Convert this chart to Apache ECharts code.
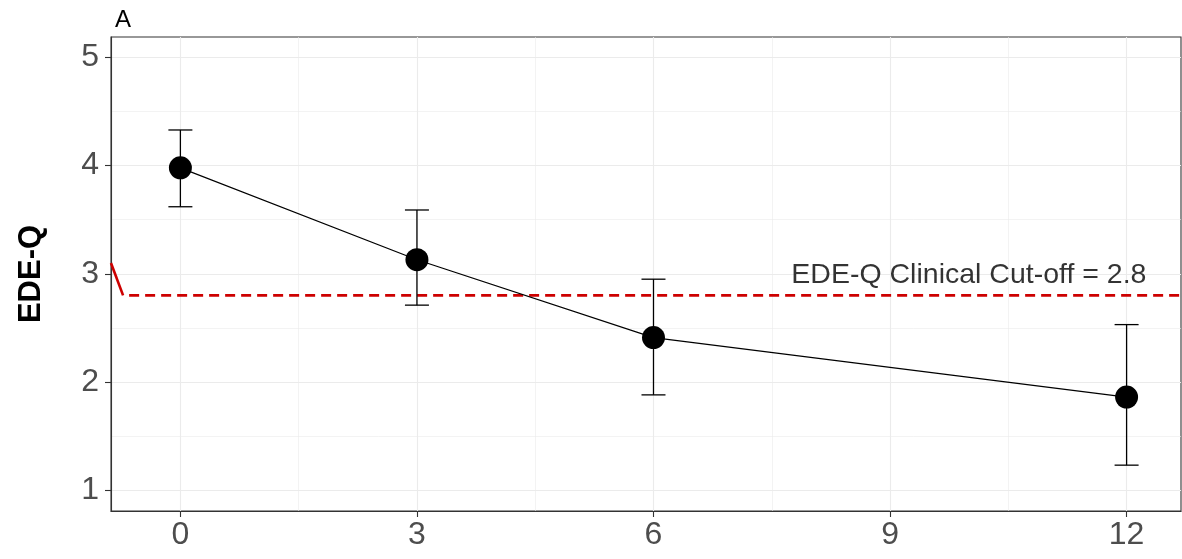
<!DOCTYPE html>
<html>
<head>
<meta charset="utf-8">
<script src="https://cdn.jsdelivr.net/npm/echarts@6/dist/echarts.min.js"></script>
<style>
	html, body { margin: 0; padding: 0; background: #fff; }
	#chart { width: 1182px; height: 559px; }
</style>
</head>
<body>
<div id="chart"></div>
<script>
// data
var months = [0, 3, 6, 12];
var means = [3.98, 3.13, 2.41, 1.86];
var lower = [3.62, 2.71, 1.88, 1.23];
var upper = [4.33, 3.59, 2.95, 2.53];
var cutoff = 2.8;
var xTicks = [0, 3, 6, 9, 12];
var xMinor = [1.5, 4.5, 7.5, 10.5];
var yTicks = [1, 2, 3, 4, 5];
var yMinor = [1.5, 2.5, 3.5, 4.5];

var xMin = -0.88, xMax = 12.69;
var yMin = 0.806, yMax = 5.19;

var myChart = echarts.init(document.getElementById('chart'));

var pointData = months.map(function (m, i) { return [m, means[i]]; });
var barData = months.map(function (m, i) { return [m, lower[i], upper[i]]; });

// grid lines drawn as markLines (axis min is not a tick multiple)
var gridLines = [];
xMinor.forEach(function (v) { gridLines.push({ xAxis: v, lineStyle: { width: 0.6 } }); });
yMinor.forEach(function (v) { gridLines.push({ yAxis: v, lineStyle: { width: 0.6 } }); });
xTicks.forEach(function (v) { gridLines.push({ xAxis: v }); });
yTicks.forEach(function (v) { gridLines.push({ yAxis: v }); });

var axisColor = '#333333';

var option = {
	animation: false,
	title: {
		text: 'A',
		left: 110,
		top: 3,
		textStyle: { fontFamily: 'Liberation Sans', fontSize: 24, fontWeight: 'normal', color: '#000' }
	},
	grid: {
		left: 111, right: 1, top: 37, bottom: 48,
		show: true,
		borderColor: axisColor,
		borderWidth: 1.1,
		backgroundColor: 'transparent'
	},
	xAxis: {
		type: 'value',
		min: xMin, max: xMax,
		axisLine: { show: true, onZero: false, lineStyle: { color: axisColor, width: 1.1 } },
		splitLine: { show: false },
		axisTick: { show: true, customValues: xTicks, length: 6, lineStyle: { color: axisColor, width: 1.1 } },
		axisLabel: {
			customValues: xTicks,
			margin: 8,
			fontFamily: 'Liberation Sans', fontSize: 32, color: '#4D4D4D'
		}
	},
	yAxis: {
		type: 'value',
		min: yMin, max: yMax,
		name: 'EDE-Q',
		nameLocation: 'middle',
		nameGap: 64,
		nameTextStyle: { fontFamily: 'Liberation Sans', fontSize: 31, fontWeight: 'bold', color: '#000' },
		axisLine: { show: true, onZero: false, lineStyle: { color: axisColor, width: 1.1 } },
		splitLine: { show: false },
		axisTick: { show: true, customValues: yTicks, length: 6, lineStyle: { color: axisColor, width: 1.1 } },
		axisLabel: {
			customValues: yTicks,
			margin: 12,
			fontFamily: 'Liberation Sans', fontSize: 32, color: '#4D4D4D'
		}
	},
	series: [
		{
			// background grid
			type: 'line',
			data: [],
			z: 0,
			silent: true,
			markLine: {
				silent: true,
				z: 0,
				symbol: 'none',
				label: { show: false },
				lineStyle: { color: '#EBEBEB', width: 1.1, type: 'solid' },
				data: gridLines,
				animation: false
			}
		},
		{
			// red cut-off line
			type: 'line',
			data: [[-0.65, cutoff], [xMax, cutoff]],
			symbol: 'none',
			z: 3,
			lineStyle: { color: '#CD0000', width: 2.6, type: [10, 6] }
		},
		{
			type: 'line',
			data: [[xMin, 3.10], [-0.727, cutoff]],
			symbol: 'none',
			z: 3,
			lineStyle: { color: '#CD0000', width: 2.6 }
		},
		{
			// error bars
			type: 'custom',
			z: 4,
			data: barData,
			renderItem: function (params, api) {
				var x = api.value(0);
				var lo = api.coord([x, api.value(1)]);
				var hi = api.coord([x, api.value(2)]);
				var w = 12;
				var style = { stroke: '#000', lineWidth: 1.3, fill: null };
				return {
					type: 'group',
					children: [
						{ type: 'line', shape: { x1: lo[0], y1: lo[1], x2: hi[0], y2: hi[1] }, style: style },
						{ type: 'line', shape: { x1: lo[0] - w, y1: lo[1], x2: lo[0] + w, y2: lo[1] }, style: style },
						{ type: 'line', shape: { x1: hi[0] - w, y1: hi[1], x2: hi[0] + w, y2: hi[1] }, style: style }
					]
				};
			}
		},
		{
			// means
			type: 'line',
			data: pointData,
			z: 5,
			symbol: 'circle',
			symbolSize: 23,
			showAllSymbol: true,
			lineStyle: { color: '#000', width: 1.2 },
			itemStyle: { color: '#000' }
		},
		{
			// annotation text
			type: 'scatter',
			data: [[10.0, 2.984]],
			z: 6,
			symbolSize: 1,
			itemStyle: { color: 'rgba(0,0,0,0)' },
			label: {
				show: true,
				position: 'inside',
				formatter: 'EDE-Q Clinical Cut-off = 2.8',
				fontFamily: 'Liberation Sans',
				fontSize: 28.5,
				color: '#000',
				textBorderWidth: 0
			}
		}
	]
};

myChart.setOption(option);
</script>
</body>
</html>
